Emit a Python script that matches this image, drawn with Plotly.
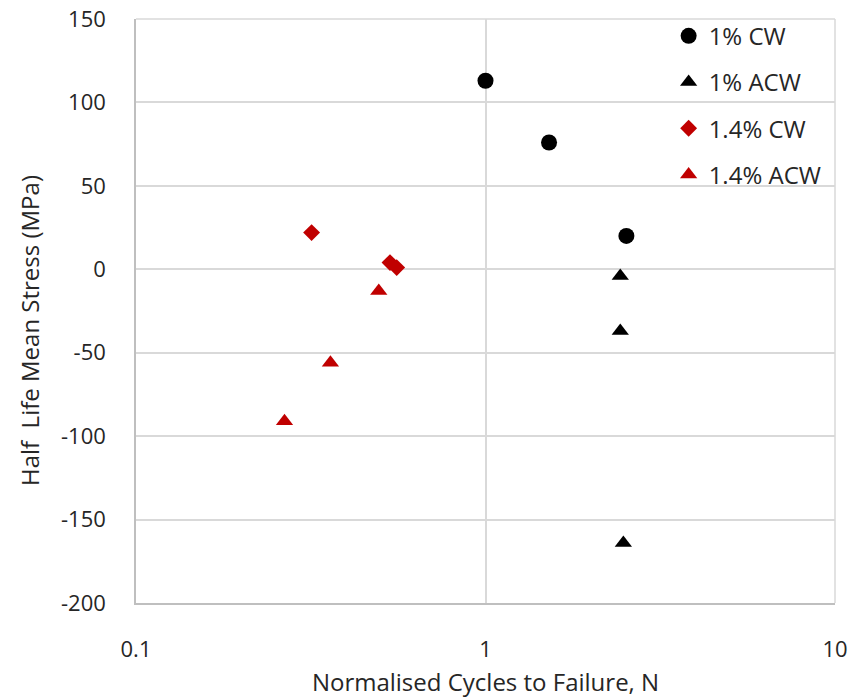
import plotly.graph_objects as go

# Normalised cycles to failure (N) and half-life mean stress (MPa) per test series
cw1_n = [1.00, 1.52, 2.53]
cw1_s = [113, 76, 20]

acw1_n = [2.43, 2.43, 2.48]
acw1_s = [-4, -37, -164]

cw14_n = [0.318, 0.533, 0.557]
cw14_s = [22, 4, 1]

acw14_n = [0.495, 0.36, 0.266]
acw14_s = [-13, -56, -91]

x_ticks = [0.1, 1, 10]
x_labels = ["0.1", "1", "10"]
y_ticks = [150, 100, 50, 0, -50, -100, -150, -200]
y_labels = ["150", "100", "50", "0", "-50", "-100", "-150", "-200"]

BLACK = "#000000"
RED = "#c00000"
FONT = "Open Sans"
TXT = "#262626"

fig = go.Figure()
series = [
    ("1% CW", cw1_n, cw1_s, "circle", BLACK, 16),
    ("1% ACW", acw1_n, acw1_s, "triangle-up", BLACK, 15),
    ("1.4% CW", cw14_n, cw14_s, "diamond", RED, 13),
    ("1.4% ACW", acw14_n, acw14_s, "triangle-up", RED, 15),
]
for i, (name, xs, ys, sym, col, size) in enumerate(series):
    fig.add_trace(go.Scatter(
        x=xs, y=ys, mode="markers", name=name, legendgroup=f"g{i}",
        marker=dict(symbol=sym, color=col, size=size, line=dict(width=0)),
    ))

fig.update_layout(
    width=853, height=698,
    margin=dict(l=136, r=18, t=19, b=95),
    paper_bgcolor="white", plot_bgcolor="white",
    font=dict(family=FONT, size=20, color=TXT),
    showlegend=True,
    legend=dict(
        x=0.762, y=1.009, xanchor="left", yanchor="top",
        traceorder="grouped", tracegroupgap=12,
        font=dict(family=FONT, size=24, color=TXT),
        bgcolor="rgba(0,0,0,0)", itemsizing="trace",
    ),
    xaxis=dict(
        type="log", range=[-1, 1], automargin=False,
        tickvals=x_ticks, ticktext=x_labels,
        showgrid=True, gridcolor="#d9d9d9", gridwidth=1.5,
        showline=True, linecolor="#bfbfbf", linewidth=1.5,
        ticks="", ticklabelstandoff=26,
        tickfont=dict(size=22, color=TXT),
        title=dict(text="Normalised Cycles to Failure, N", standoff=14,
                   font=dict(size=24, color=TXT)),
        zeroline=False,
    ),
    yaxis=dict(
        range=[-200, 150], automargin=False,
        tickvals=y_ticks, ticktext=y_labels,
        showgrid=True, gridcolor="#d9d9d9", gridwidth=1.5,
        showline=True, linecolor="#bfbfbf", linewidth=1.5,
        ticks="", ticklabelstandoff=24,
        tickfont=dict(size=22, color=TXT),
        zeroline=False,
    ),
)

# y-axis title, set slightly below the plot's vertical centre
fig.add_annotation(
    text="Half\u00a0 Life Mean Stress (MPa)", textangle=-90,
    xref="paper", yref="paper", x=-0.152, y=0.467,
    xanchor="center", yanchor="middle", showarrow=False,
    font=dict(family=FONT, size=24, color=TXT),
)

# plot-area frame: grid-coloured top/right edges
fig.add_shape(type="line", xref="paper", yref="paper", x0=0, x1=1, y0=1, y1=1,
              line=dict(color="#d9d9d9", width=1.5))
fig.add_shape(type="line", xref="paper", yref="paper", x0=1, x1=1, y0=0, y1=1,
              line=dict(color="#d9d9d9", width=1.5))

fig.write_html("out.html")
